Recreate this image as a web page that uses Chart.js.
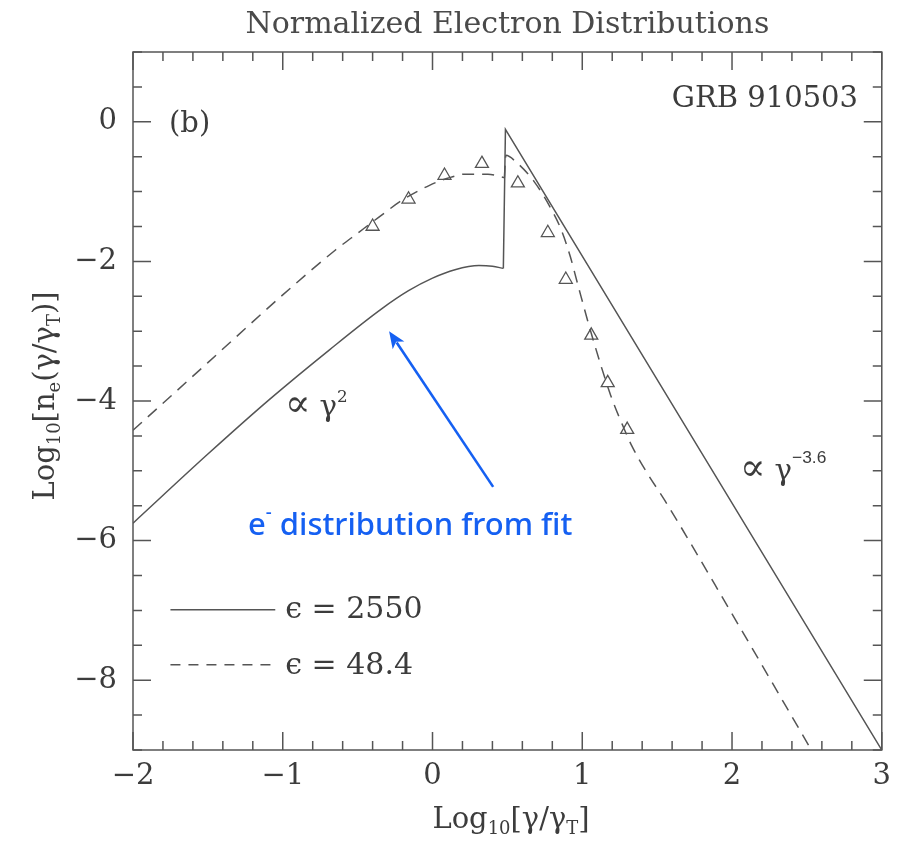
<!DOCTYPE html>
<html><head><meta charset="utf-8">
<script src="https://cdn.jsdelivr.net/npm/chart.js@4.4.0/dist/chart.umd.min.js"></script>
<style>html,body{margin:0;padding:0;background:#fff;}canvas{display:block;}</style>
</head><body>
<canvas id="c" width="900" height="841"></canvas>
<script>
// ---- data (log10 gamma/gammaT vs log10 n_e) ----
const solidRiseX = [-2.0, -1.5, -1.09, -0.69, -0.34, -0.16, 0.0, 0.15, 0.31, 0.40, 0.473];
const solidRiseY = [-5.75, -4.76, -3.98, -3.27, -2.68, -2.42, -2.24, -2.12, -2.06, -2.07, -2.10];
const solidTailX = [0.473, 0.487, 3.0];
const solidTailY = [-2.10, -0.11, -9.0];

const dashRiseX = [-2.0, -1.5, -1.0, -0.65, -0.49, -0.36, -0.2, -0.02, 0.1, 0.22, 0.37, 0.46, 0.48];
const dashRiseY = [-4.42, -3.45, -2.48, -1.84, -1.58, -1.37, -1.12, -0.91, -0.81, -0.75, -0.75, -0.79, -0.80];
const dashTailX = [0.48, 0.49, 0.56, 0.68, 0.80, 0.86, 0.92, 0.97, 1.06, 1.19, 1.28, 1.33, 1.43, 1.55, 2.0, 2.53];
const dashTailY = [-0.80, -0.48, -0.58, -0.86, -1.28, -1.55, -1.93, -2.33, -3.03, -3.92, -4.40, -4.64, -5.02, -5.42, -7.05, -9.0];

const triX = [-0.40, -0.16, 0.08, 0.33, 0.57, 0.77, 0.89, 1.06, 1.17, 1.30];
const triY = [-1.50, -1.11, -0.77, -0.60, -0.88, -1.59, -2.26, -3.06, -3.74, -4.41];

const xTickLabels = [-2, -1, 0, 1, 2, 3];
const yTickLabels = [-8, -6, -4, -2, 0];
const legendLabels = ['\u03f5 = 2550', '\u03f5 = 48.4'];
const titleText = 'Normalized Electron Distributions';

// ---- styles ----
const INK = '#555555';
const TXT = '#3c3c3c';
const BLUE = '#1560f2';
const SERIF = '"DejaVu Serif", "Liberation Serif", serif';
const DASH = [12, 8];

const zip = (xs, ys) => xs.map((x, i) => ({x, y: ys[i]}));
const fmt = v => (v < 0 ? '\u2212' + Math.abs(v) : String(v));

function rich(ctx, parts, x, y, size, family, align, weight) {
  const w8 = weight || '';
  let total = 0; const ws = [];
  for (const [t, r, dy, fam] of parts) { ctx.font = `${w8} ${size * r}px ${fam || family}`; const w = ctx.measureText(t).width; ws.push(w); total += w; }
  let cx = align === 'center' ? x - total / 2 : (align === 'right' ? x - total : x);
  ctx.textAlign = 'left'; ctx.textBaseline = 'alphabetic';
  parts.forEach(([t, r, dy, fam], i) => { ctx.font = `${w8} ${size * r}px ${fam || family}`; ctx.fillText(t, cx, y + (dy || 0) * size); cx += ws[i]; });
}

const framePlugin = {
  id: 'frame',
  afterDatasetsDraw(chart) {
    const {ctx, chartArea: a, scales: {x, y}} = chart;
    ctx.save();
    ctx.strokeStyle = INK; ctx.lineWidth = 1.5;
    ctx.strokeRect(a.left, a.top, a.right - a.left, a.bottom - a.top);
    ctx.beginPath();
    for (let i = 0; i <= 25; i++) {
      const v = -2 + i * 0.2, p = x.getPixelForValue(v), L = i % 5 === 0 ? 18 : 9;
      ctx.moveTo(p, a.bottom); ctx.lineTo(p, a.bottom - L);
      ctx.moveTo(p, a.top); ctx.lineTo(p, a.top + L);
    }
    for (let i = 0; i <= 20; i++) {
      const v = -9 + i * 0.5, p = y.getPixelForValue(v), L = i % 4 === 2 ? 18 : 9;
      ctx.moveTo(a.left, p); ctx.lineTo(a.left + L, p);
      ctx.moveTo(a.right, p); ctx.lineTo(a.right - L, p);
    }
    ctx.stroke();
    ctx.restore();
  },
  afterDraw(chart) {
    const {ctx, scales: {x, y}} = chart;
    const P = (vx, vy) => [x.getPixelForValue(vx), y.getPixelForValue(vy)];
    ctx.save();
    // title
    ctx.fillStyle = '#4a4a4a';
    ctx.font = `30px ${SERIF}`; ctx.textAlign = 'center'; ctx.textBaseline = 'alphabetic';
    ctx.fillText(titleText, (chart.chartArea.left + chart.chartArea.right) / 2, 33);
    ctx.fillStyle = TXT;
    // panel labels
    ctx.font = `29px ${SERIF}`; ctx.textAlign = 'left'; ctx.fillText('(b)', 169, 132);
    ctx.font = `29px ${SERIF}`; ctx.textAlign = 'right'; ctx.fillText('GRB 910503', 858, 107);
    // power-law annotations
    rich(ctx, [['\u221d', 1.35, 0], [' ', 1, 0], ['\u03b3', 1.05, 0], ['2', 0.6, -0.5]], 285, 416, 28, SERIF, 'left');
    rich(ctx, [['\u221d', 1.35, 0], [' ', 1, 0], ['\u03b3', 1.05, 0], ['\u22123.6', 0.62, -0.6, '"Liberation Sans", sans-serif']], 740, 480, 28, SERIF, 'left');
    // legend samples
    ctx.strokeStyle = INK; ctx.lineWidth = 1.5;
    let [a1, b1] = P(-1.75, -6.99), [a2] = P(-1.05, -6.99);
    ctx.beginPath(); ctx.moveTo(a1, b1); ctx.lineTo(a2, b1); ctx.stroke();
    let [c1, d1] = P(-1.75, -7.78), [c2] = P(-1.05, -7.78);
    ctx.setLineDash([10, 8]); ctx.beginPath(); ctx.moveTo(c1, d1); ctx.lineTo(c2, d1); ctx.stroke(); ctx.setLineDash([]);
    ctx.font = `30px ${SERIF}`; ctx.textAlign = 'left'; ctx.textBaseline = 'middle';
    ctx.fillText(legendLabels[0], a2 + 10, b1 + 1);
    ctx.fillText(legendLabels[1], c2 + 10, d1 + 1);
    // axis titles
    rich(ctx, [['Log', 1, 0], ['10', 0.62, 0.22], ['[\u03b3/\u03b3', 1, 0], ['T', 0.62, 0.22], [']', 1, 0]], 511, 828, 29, SERIF, 'center');
    ctx.save(); ctx.translate(54, 396); ctx.rotate(-Math.PI / 2);
    rich(ctx, [['Log', 1, 0], ['10', 0.62, 0.22], ['[n', 1, 0], ['e', 0.62, 0.22], ['(\u03b3/\u03b3', 1, 0], ['T', 0.62, 0.22], [')]', 1, 0]], 0, 0, 29, SERIF, 'center');
    ctx.restore();
    // blue annotation
    ctx.fillStyle = BLUE;
    rich(ctx, [['e', 1, 0], ['-', 0.6, -0.55], [' distribution from fit', 1, 0]], 248, 535, 31, '"Noto Sans", sans-serif', 'left', '500');
    const [tx, ty] = P(0.405, -5.23), [hx, hy] = P(-0.29, -3.0);
    const ang = Math.atan2(hy - ty, hx - tx), HL = 17, HW = 7;
    ctx.strokeStyle = BLUE; ctx.lineWidth = 2.6;
    ctx.beginPath(); ctx.moveTo(tx, ty); ctx.lineTo(hx - Math.cos(ang) * HL * 0.8, hy - Math.sin(ang) * HL * 0.8); ctx.stroke();
    ctx.beginPath();
    ctx.moveTo(hx, hy);
    ctx.lineTo(hx - Math.cos(ang) * HL + Math.sin(ang) * HW, hy - Math.sin(ang) * HL - Math.cos(ang) * HW);
    ctx.lineTo(hx - Math.cos(ang) * HL * 0.75, hy - Math.sin(ang) * HL * 0.75);
    ctx.lineTo(hx - Math.cos(ang) * HL - Math.sin(ang) * HW, hy - Math.sin(ang) * HL + Math.cos(ang) * HW);
    ctx.closePath(); ctx.fill();
    ctx.restore();
  }
};

const lineDs = (data, extra) => Object.assign({data, showLine: true, borderColor: INK, borderWidth: 1.5, pointRadius: 0, fill: false}, extra);

new Chart(document.getElementById('c'), {
  type: 'scatter',
  data: {datasets: [
    lineDs(zip(solidRiseX, solidRiseY), {cubicInterpolationMode: 'monotone'}),
    lineDs(zip(solidTailX, solidTailY), {tension: 0}),
    lineDs(zip(dashRiseX, dashRiseY), {cubicInterpolationMode: 'monotone', borderDash: DASH}),
    lineDs(zip(dashTailX, dashTailY), {cubicInterpolationMode: 'monotone', borderDash: DASH}),
    {data: zip(triX, triY), showLine: false, pointStyle: 'triangle', pointRadius: 7.5, pointBorderColor: INK, pointBackgroundColor: 'rgba(255,255,255,0)', pointBorderWidth: 1.3}
  ]},
  options: {
    responsive: false, animation: false, devicePixelRatio: 1,
    layout: {padding: {top: 52, right: 15, left: 0, bottom: 0}},
    plugins: {legend: {display: false}, tooltip: {enabled: false}, title: {display: false}},
    scales: {
      x: {
        type: 'linear', min: -2, max: 3,
        afterFit: s => { s.height = 91; },
        afterBuildTicks: s => { s.ticks = xTickLabels.map(v => ({value: v})); },
        grid: {display: false, drawTicks: false}, border: {display: false},
        ticks: {font: {family: SERIF, size: 29}, color: TXT, padding: 9, maxRotation: 0, autoSkip: false, callback: v => fmt(v)}
      },
      y: {
        type: 'linear', min: -9, max: 1,
        afterFit: s => { s.width = 133; },
        afterBuildTicks: s => { s.ticks = yTickLabels.map(v => ({value: v})); },
        grid: {display: false, drawTicks: false}, border: {display: false},
        ticks: {font: {family: SERIF, size: 29}, color: TXT, padding: 16, autoSkip: false, callback: v => fmt(v)}
      }
    }
  },
  plugins: [framePlugin]
});
</script>
</body></html>
